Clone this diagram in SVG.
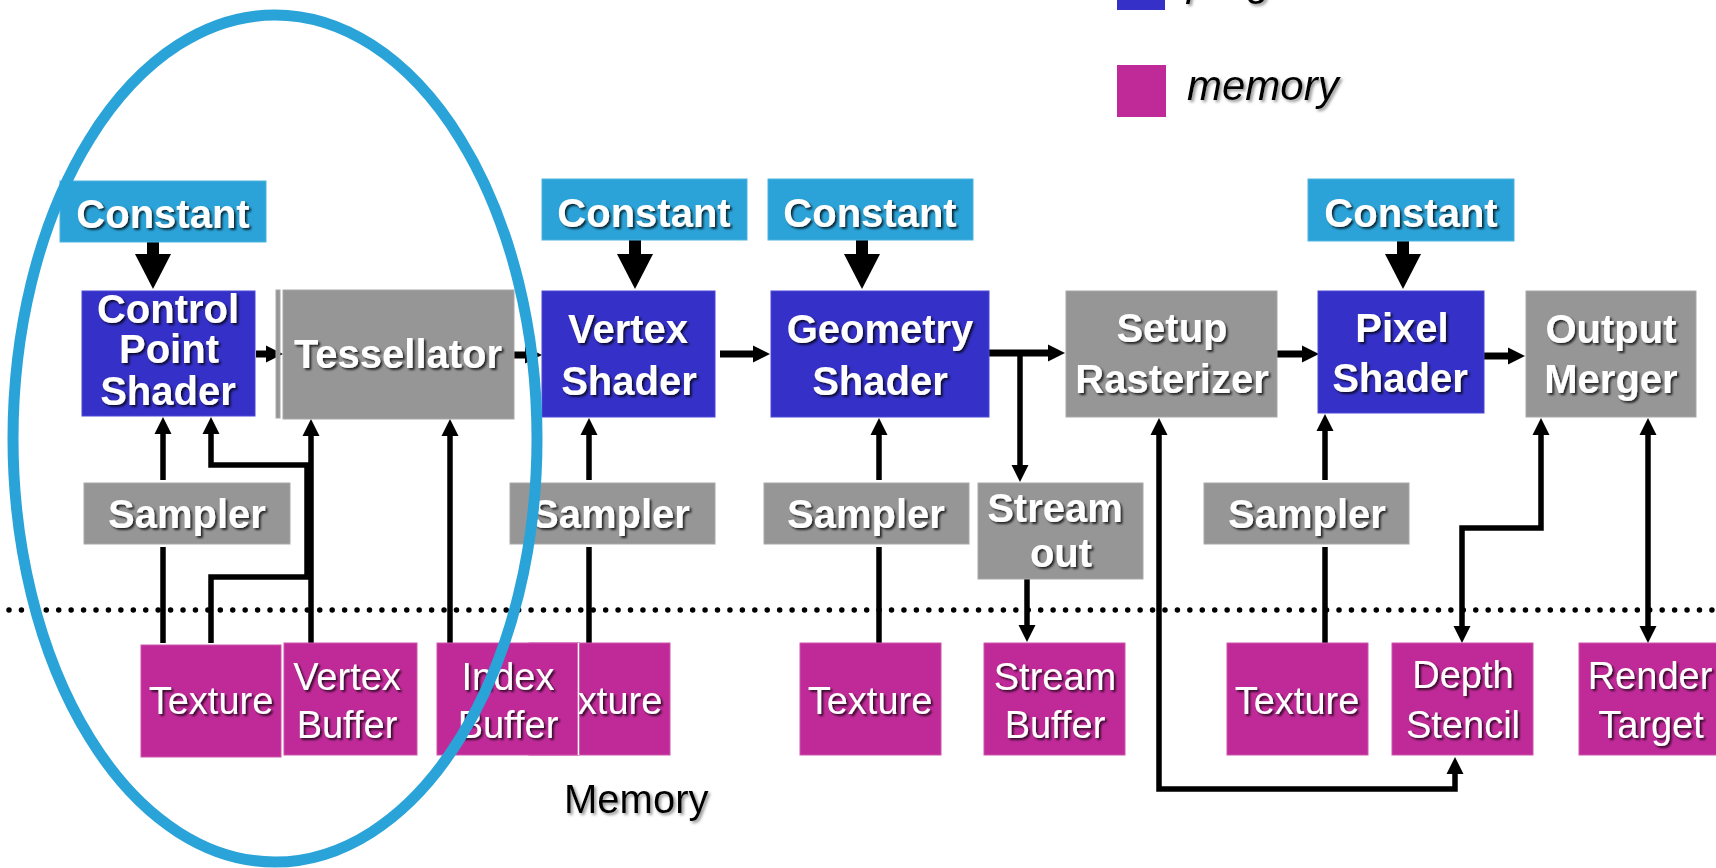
<svg xmlns="http://www.w3.org/2000/svg" width="1716" height="868" viewBox="0 0 1716 868">
  <style>
    .const { fill: #2BA3D8; stroke: #4DB3E0; stroke-width: 1; }
    .prog { fill: #3430C8; stroke: #4B48D6; stroke-width: 1; }
    .fixed { fill: #969696; stroke: #A8A8A8; stroke-width: 1; }
    .mem { fill: #C02A98; stroke: #CE55AE; stroke-width: 1; }
    .lbl { font-family: "Liberation Sans", Arial, sans-serif; font-size: 40px; font-weight: bold; fill: #FFFFFF; text-anchor: middle; filter: url(#shadow); }
    .mlbl { font-family: "Liberation Sans", Arial, sans-serif; font-size: 38px; fill: #FFFFFF; text-anchor: middle; filter: url(#shadow); }
    .dark { font-family: "Liberation Sans", Arial, sans-serif; fill: #000000; filter: url(#softshadow); }
    .flow { fill: none; stroke: #000; stroke-width: 7; marker-end: url(#head); }
    .link { fill: none; stroke: #000; stroke-width: 5.5; }
    .up { marker-end: url(#head); }
    .both { marker-start: url(#head); marker-end: url(#head); }
    .big { fill: none; stroke: #000; stroke-width: 12; marker-end: url(#bighead); }
  </style>
  <defs>
    <filter id="shadow" x="-10%" y="-20%" width="130%" height="150%">
      <feDropShadow dx="2" dy="2" stdDeviation="1" flood-color="#000" flood-opacity="0.75"/>
    </filter>
    <filter id="softshadow" x="-10%" y="-20%" width="130%" height="150%">
      <feDropShadow dx="2" dy="2" stdDeviation="1.5" flood-color="#777" flood-opacity="0.8"/>
    </filter>
    <marker id="head" markerUnits="userSpaceOnUse" viewBox="0 -9 18 18" markerWidth="18" markerHeight="18" refX="1" refY="0" orient="auto-start-reverse">
      <path d="M0,-8.5 L17,0 L0,8.5 z" fill="#000"/>
    </marker>
    <marker id="bighead" markerUnits="userSpaceOnUse" viewBox="0 -18 36 36" markerWidth="36" markerHeight="36" refX="1" refY="0" orient="auto">
      <path d="M0,-18 L35,0 L0,18 z" fill="#000"/>
    </marker>
  </defs>

  <rect width="1716" height="868" fill="#FFFFFF"/>

  <!-- legend (its first entry runs off the top edge) -->
  <g id="legend">
    <rect x="1117" y="-40" width="48" height="50" fill="#3430C8"/>
    <text class="dark" x="1187" y="-5" font-size="42" font-style="italic">programmable</text>
    <rect x="1117" y="65" width="49" height="52" fill="#C02A98"/>
    <text class="dark" x="1187" y="100" font-size="42" font-style="italic">memory</text>
  </g>

  <!-- boundary between pipeline and memory -->
  <line x1="9" y1="610" x2="1716" y2="610" stroke="#000" stroke-width="5.5" stroke-linecap="round" stroke-dasharray="0 12.43"/>
  <text class="dark" x="564" y="813" font-size="40">Memory</text>

  <!-- connectors -->
  <g id="connectors">
    <path class="big" d="M153,241 V255"/>
    <path class="big" d="M635,240 V255"/>
    <path class="big" d="M862,240 V255"/>
    <path class="big" d="M1403,241 V255"/>

    <path class="flow" d="M256,354 H267"/>
    <path class="flow" d="M513,355 H526"/>
    <path class="flow" d="M720,354 H754"/>
    <path class="flow" d="M988,353 H1049"/>
    <path class="link up" d="M1020,353 V466" stroke-width="6"/>
    <path class="flow" d="M1277,354 H1303"/>
    <path class="flow" d="M1484,356 H1509"/>

    <path class="link" d="M163,643 V547"/>
    <path class="link up" d="M163,480 V433"/>
    <path class="link up" d="M211,643 V577 H307 V465 H211 V433"/>
    <path class="link up" d="M311,643 V435"/>
    <path class="link up" d="M450,643 V435"/>

    <path class="link" d="M589,643 V547"/>
    <path class="link up" d="M589,480 V434"/>
    <path class="link" d="M879,643 V547"/>
    <path class="link up" d="M879,480 V434"/>
    <path class="link up" d="M1027,575 V626"/>

    <path class="link" d="M1325,643 V547"/>
    <path class="link up" d="M1325,480 V430"/>
    <path class="link both" d="M1159,434 V789 H1455 V773"/>
    <path class="link both" d="M1541,434 V528 H1462 V627"/>
    <path class="link both" d="M1648,434 V627"/>
  </g>

  <!-- constant buffers -->
  <g id="constant-cp"><rect class="const" x="60" y="181" width="206" height="61"/><text class="lbl" x="163" y="228">Constant</text></g>
  <g id="constant-vs"><rect class="const" x="542" y="179" width="205" height="61"/><text class="lbl" x="644" y="227">Constant</text></g>
  <g id="constant-gs"><rect class="const" x="768" y="179" width="205" height="61"/><text class="lbl" x="870" y="227">Constant</text></g>
  <g id="constant-ps"><rect class="const" x="1308" y="179" width="206" height="62"/><text class="lbl" x="1411" y="227">Constant</text></g>

  <!-- pipeline stages -->
  <g id="control-point-shader">
    <rect class="prog" x="82" y="291" width="173" height="125"/>
    <text class="lbl" x="168" y="323">Control</text>
    <text class="lbl" x="169" y="363">Point</text>
    <text class="lbl" x="168" y="405">Shader</text>
  </g>
  <g id="tessellator">
    <rect class="fixed" x="276" y="290" width="4" height="128"/>
    <rect class="fixed" x="283" y="290" width="231" height="129"/>
    <text class="lbl" x="398" y="368">Tessellator</text>
  </g>
  <g id="vertex-shader">
    <rect class="prog" x="542" y="291" width="173" height="126"/>
    <text class="lbl" x="628" y="343">Vertex</text>
    <text class="lbl" x="629" y="395">Shader</text>
  </g>
  <g id="geometry-shader">
    <rect class="prog" x="771" y="291" width="218" height="126"/>
    <text class="lbl" x="880" y="343">Geometry</text>
    <text class="lbl" x="880" y="395">Shader</text>
  </g>
  <g id="setup-rasterizer">
    <rect class="fixed" x="1066" y="291" width="211" height="126"/>
    <text class="lbl" x="1172" y="342">Setup</text>
    <text class="lbl" x="1172" y="393">Rasterizer</text>
  </g>
  <g id="pixel-shader">
    <rect class="prog" x="1318" y="291" width="166" height="122"/>
    <text class="lbl" x="1402" y="342">Pixel</text>
    <text class="lbl" x="1400" y="392">Shader</text>
  </g>
  <g id="output-merger">
    <rect class="fixed" x="1526" y="291" width="170" height="126"/>
    <text class="lbl" x="1611" y="343">Output</text>
    <text class="lbl" x="1611" y="393">Merger</text>
  </g>

  <!-- samplers and stream output -->
  <g id="sampler-cp"><rect class="fixed" x="84" y="483" width="206" height="61"/><text class="lbl" x="187" y="528">Sampler</text></g>
  <g id="sampler-vs"><rect class="fixed" x="510" y="483" width="205" height="61"/><text class="lbl" x="611" y="528">Sampler</text></g>
  <g id="sampler-gs"><rect class="fixed" x="764" y="483" width="205" height="61"/><text class="lbl" x="866" y="528">Sampler</text></g>
  <g id="stream-out">
    <rect class="fixed" x="978" y="483" width="165" height="96"/>
    <text class="lbl" x="1055" y="522">Stream</text>
    <text class="lbl" x="1061" y="567">out</text>
  </g>
  <g id="sampler-ps"><rect class="fixed" x="1204" y="483" width="205" height="61"/><text class="lbl" x="1307" y="528">Sampler</text></g>

  <!-- memory resources -->
  <g id="texture-cp"><rect class="mem" x="141" y="645" width="140" height="112"/><text class="mlbl" x="211" y="714">Texture</text></g>
  <g id="vertex-buffer">
    <rect class="mem" x="284" y="643" width="133" height="112"/>
    <text class="mlbl" x="347" y="690">Vertex</text>
    <text class="mlbl" x="347" y="738">Buffer</text>
  </g>
  <g id="texture-vs"><rect class="mem" x="529" y="643" width="141" height="112"/><text class="mlbl" x="600" y="714">Texture</text></g>
  <g id="index-buffer">
    <rect class="mem" x="437" y="643" width="141" height="112"/>
    <line x1="578.5" y1="643" x2="578.5" y2="755" stroke="#FFFFFF" stroke-width="1.5"/>
    <text class="mlbl" x="508" y="690">Index</text>
    <text class="mlbl" x="508" y="738">Buffer</text>
  </g>
  <g id="texture-gs"><rect class="mem" x="800" y="643" width="141" height="112"/><text class="mlbl" x="870" y="714">Texture</text></g>
  <g id="stream-buffer">
    <rect class="mem" x="984" y="643" width="141" height="112"/>
    <text class="mlbl" x="1055" y="690">Stream</text>
    <text class="mlbl" x="1055" y="738">Buffer</text>
  </g>
  <g id="texture-ps"><rect class="mem" x="1227" y="643" width="141" height="112"/><text class="mlbl" x="1297" y="714">Texture</text></g>
  <g id="depth-stencil">
    <rect class="mem" x="1392" y="643" width="141" height="112"/>
    <text class="mlbl" x="1463" y="688">Depth</text>
    <text class="mlbl" x="1463" y="738">Stencil</text>
  </g>
  <g id="render-target">
    <rect class="mem" x="1579" y="643" width="145" height="112"/>
    <text class="mlbl" x="1650" y="689">Render</text>
    <text class="mlbl" x="1651" y="738">Target</text>
  </g>

  <!-- highlight around the tessellation stages -->
  <ellipse id="tessellation-highlight" cx="275" cy="438.5" rx="262" ry="423.5" fill="none" stroke="#2AA4D8" stroke-width="11"/>
</svg>
